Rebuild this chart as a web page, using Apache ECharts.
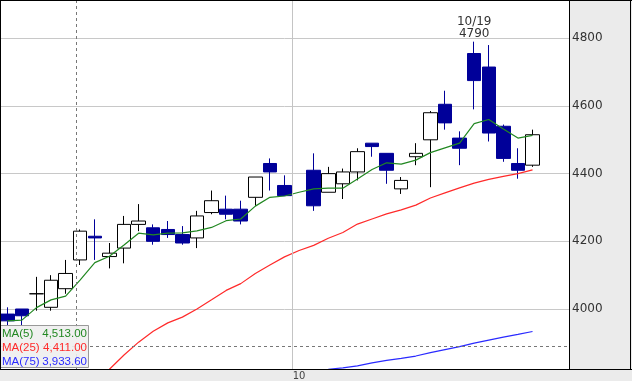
<!DOCTYPE html>
<html><head><meta charset="utf-8">
<script src="https://cdn.jsdelivr.net/npm/echarts@6/dist/echarts.min.js"></script>
<style>html,body{margin:0;padding:0;background:#ebebeb}#c{width:632px;height:381px}</style>
</head><body><div id="c"></div>
<script>
const dates = ['9/1','9/4','9/5','9/6','9/7','9/8','9/11','9/12','9/13','9/14','9/15','9/19','9/20','9/21','9/22','9/25','9/26','9/27','9/28','9/29','10/2','10/3','10/4','10/5','10/6','10/10','10/11','10/12','10/13','10/16','10/17','10/18','10/19','10/20','10/23','10/24','10/25','10/26','10/27'];
const opens  = [3985,4000,4045,4005,4060,4145,4215,4155,4180,4250,4240,4235,4220,4210,4285,4295,4295,4330,4430,4365,null,4410,4345,4370,4405,4490,4460,4355,4450,4500,4605,4505,4755,4715,4540,4430,4425,null,null];
const closes = [3965,3980,4045,4085,4105,4230,4210,4165,4250,4260,4200,4220,4195,4275,4320,4280,4260,4390,4405,4335,null,4305,4400,4405,4465,4480,4410,4380,4460,4580,4550,4475,4675,4520,4445,4410,4515,null,null];
const lows   = [3950,3950,3995,3995,4045,4130,4145,4120,4135,4230,4190,4210,4190,4180,4280,4265,4250,4305,4350,4335,null,4290,4345,4325,4380,4450,4370,4340,4425,4360,4530,4425,4590,4495,4435,4385,4420,null,null];
const highs  = [4005,4000,4095,4100,4145,4235,4265,4195,4275,4310,4250,4260,4245,4290,4350,4335,4320,4390,4445,4395,null,4460,4420,4415,4475,4490,4460,4390,4490,4585,4645,4525,4790,4780,4545,4475,4530,null,null];
const ma5  = [3965,3967,4004,4027,4038,4086,4137,4156,4189,4224,4219,4224,4225,4231,4241,4261,4266,4304,4330,4334,4345,4355,4357,4357,4384,4412,4432,4428,4440,4462,4476,4490,4548,4560,4532,4505,4513,null,null];
const ma25 = [null,null,null,null,null,null,null,3822,3864,3902,3934,3959,3976,4000,4027,4055,4075,4105,4130,4154,4173,4188,4209,4226,4251,4266,4281,4293,4307,4328,4343,4358,4372,4383,4392,4400,4411,null,null];
const ma75 = [null,null,null,null,null,null,null,null,null,null,null,null,null,null,null,null,null,null,null,null,null,null,3822,3826,3832,3841,3848,3854,3861,3871,3880,3889,3899,3908,3917,3925,3933.6,null,null];
const yTicks = [4000,4200,4400,4600,4800];
const lowLine = 3890;
const markerPos = 5.2;
const monthLinePos = 20;

const FONT = '"DejaVu Sans", Verdana, sans-serif';
const candles = dates.map((d,i)=> opens[i]==null ? '-' : [opens[i], closes[i], lows[i], highs[i]]);
let maxIdx = 0;
highs.forEach((h,i)=>{ if (h!=null && h > highs[maxIdx]) maxIdx = i; });
const fmt = v => v.toLocaleString('en-US',{minimumFractionDigits:2, maximumFractionDigits:2});
const last = arr => { for (let i=arr.length-1;i>=0;i--) if (arr[i]!=null) return arr[i]; };

const chart = echarts.init(document.getElementById('c'), null, {renderer:'canvas'});
const legendRows = [['MA(5)', ma5, '#228822'], ['MA(25)', ma25, '#ff2a2a'], ['MA(75)', ma75, '#2a2aff']];
const LFONT = '11.5px "Liberation Sans", Arial, sans-serif';
const legendEls = [{type:'rect', shape:{x:0.5,y:325.5,width:88,height:42}, style:{fill:'rgba(238,238,238,0.9)', stroke:'#999', lineWidth:1}}];
legendRows.forEach((r,k)=>{
  const y = 333.5 + k*14;
  legendEls.push({type:'text', style:{text:r[0], x:2, y:y, fill:r[2], font:LFONT, textVerticalAlign:'middle'}});
  legendEls.push({type:'text', style:{text:fmt(last(r[1])), x:87, y:y, fill:r[2], font:LFONT, textAlign:'right', textVerticalAlign:'middle'}});
});
const frame = [
  [0,0.5,632,0.5],[0,369.5,632,369.5],[0.5,0,0.5,370],[569.5,0,569.5,370],[630.5,0,630.5,370]
].map(s=>({type:'line', shape:{x1:s[0],y1:s[1],x2:s[2],y2:s[3]}, style:{stroke:'#000', lineWidth:1}, z:100}));

chart.setOption({
  animation:false,
  backgroundColor:'#ebebeb',
  grid:{left:0, top:0, width:569, height:369, show:true, backgroundColor:'#fff', borderWidth:0},
  xAxis:[{
    type:'category', data:dates, boundaryGap:true,
    axisLine:{show:false}, axisTick:{show:false},
    axisLabel:{interval:(i)=> i>0 && dates[i].split('/')[0] !== dates[i-1].split('/')[0],
      formatter:(v)=> v.split('/')[0], color:'#444', fontSize:10, fontFamily:FONT, margin:2},
    splitLine:{show:false}
  },{
    type:'value', min:0, max:dates.length, show:false
  }],
  yAxis:{
    type:'value', position:'right', min:4000-(369-309)/0.3384, max:4000+309/0.3384,
    axisLine:{show:false}, axisTick:{show:false, customValues:yTicks},
    axisLabel:{customValues:yTicks, formatter:(v)=>String(v), color:'#333', fontSize:12, fontFamily:FONT, margin:3},
    splitLine:{show:true, lineStyle:{color:'#c8c8c8', width:1}}
  },
  graphic: legendEls.map(e=>Object.assign({z:90}, e)).concat(frame),
  series:[
    {type:'line', xAxisIndex:1, data:[], silent:true, z:1,
     markLine:{silent:true, symbol:['none','none'], label:{show:false},
       data:[
         {xAxis:monthLinePos, lineStyle:{color:'#c4c4c4', type:'solid', width:1}},
         {xAxis:markerPos, lineStyle:{color:'#777', type:[3,3], width:1}}
       ]}},
    {type:'candlestick', data:candles, barWidth:'96%',
     itemStyle:{color:'#ffffff', color0:'#000099', borderColor:'#000000', borderColor0:'#000099', borderColorDoji:'#000000', borderWidth:1},
     markLine:{silent:true, symbol:['none','none'], label:{show:false},
       lineStyle:{color:'#777', type:[3,3], width:1}, data:[{yAxis:lowLine}]},
     markPoint:{symbol:'circle', symbolSize:0, silent:true,
       data:[{name:dates[maxIdx], coord:[dates[maxIdx], highs[maxIdx]], value:highs[maxIdx]}],
       label:{show:true, position:'top', distance:2, formatter:p=>p.name+'\n'+p.value, color:'#333', fontSize:12, lineHeight:12, fontFamily:FONT}}
    },
    {type:'line', data:ma5, symbol:'none', lineStyle:{color:'#228822', width:1.2}, silent:true},
    {type:'line', data:ma25, symbol:'none', lineStyle:{color:'#ff2a2a', width:1.2}, silent:true},
    {type:'line', data:ma75, symbol:'none', lineStyle:{color:'#2a2aff', width:1.2}, silent:true}
  ]
});
</script></body></html>
